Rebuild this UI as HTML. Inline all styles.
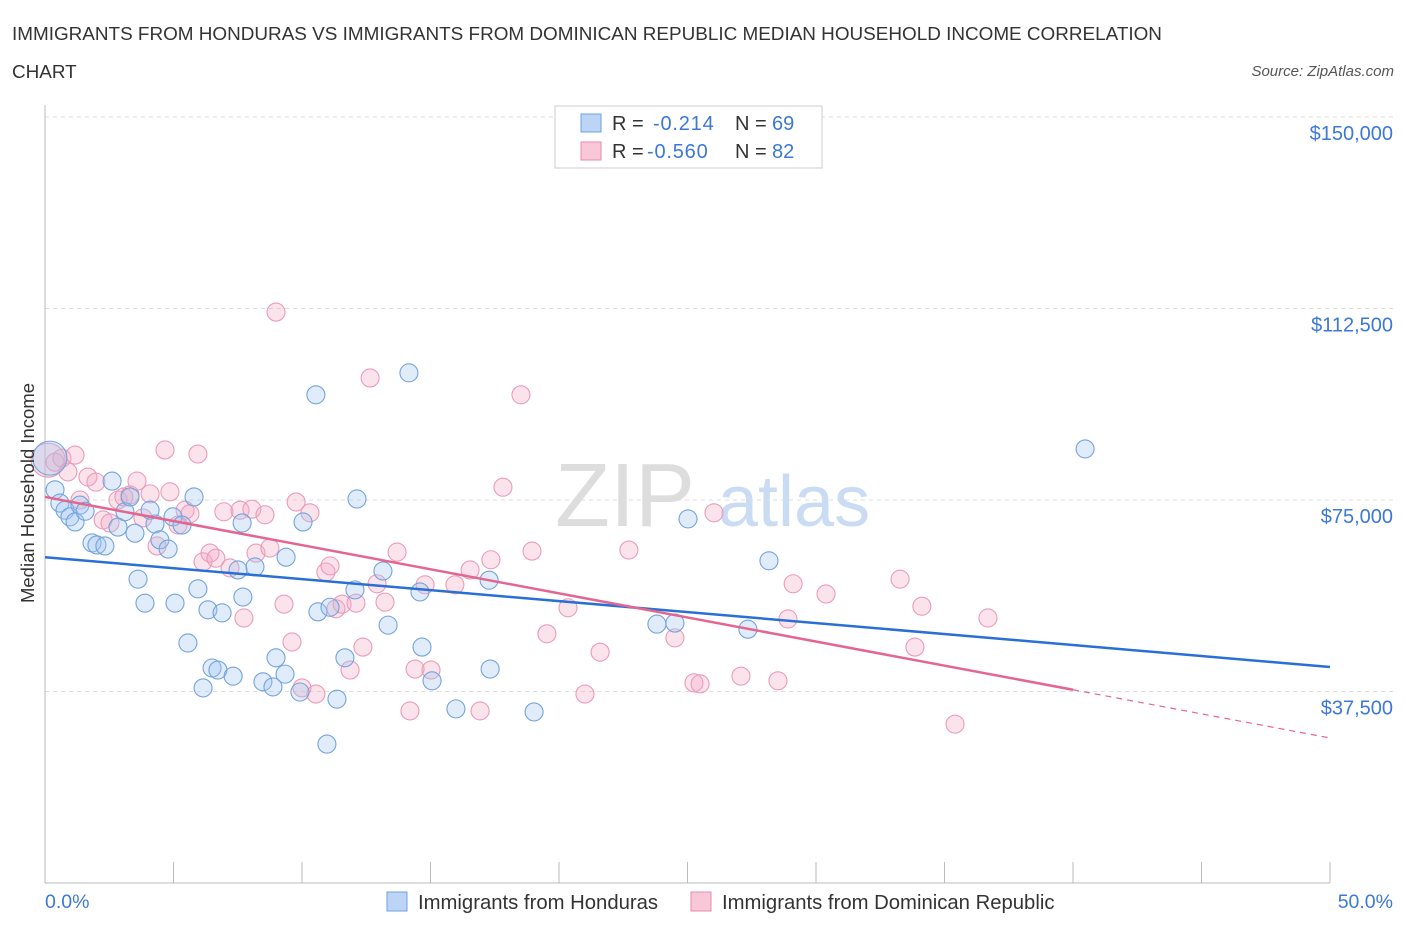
<!DOCTYPE html>
<html><head><meta charset="utf-8"><style>
body{margin:0;background:#fff;font-family:"Liberation Sans",sans-serif;}
svg text{font-family:"Liberation Sans",sans-serif;}
</style></head><body>
<svg id="chart" width="1406" height="930" xmlns="http://www.w3.org/2000/svg">
<text x="12" y="40" font-size="18.9" fill="#333">IMMIGRANTS FROM HONDURAS VS IMMIGRANTS FROM DOMINICAN REPUBLIC MEDIAN HOUSEHOLD INCOME CORRELATION</text>
<text x="12" y="78" font-size="18.9" fill="#333">CHART</text>
<text x="1394" y="76" font-size="15" fill="#555" text-anchor="end" font-style="italic">Source: ZipAtlas.com</text>
<text x="555" y="526" font-size="90" fill="#ddd" font-family="Liberation Serif">ZIP</text>
<text x="718" y="526" font-size="72" fill="#c9dcf3">atlas</text>
<g id="grid"></g><g id="axes"></g><g id="pts"></g><g id="lines"></g>
<text transform="translate(34,493) rotate(-90)" font-size="18.5" fill="#333" text-anchor="middle">Median Household Income</text>
<text x="45" y="908" font-size="19.5" fill="#3b78d8">0.0%</text>
<text x="1393" y="908" font-size="19.5" fill="#3b78d8" text-anchor="end">50.0%</text>
<g>
<rect x="555" y="106" width="267" height="62" fill="#fff" stroke="#ccc"/>
<rect x="581" y="114" width="20" height="18" fill="#bcd5f6" stroke="#6fa0dc"/>
<text x="612" y="130" font-size="20" fill="#333">R = </text><text x="653" y="130" font-size="20" fill="#3b78d8" letter-spacing="0.8">-0.214</text>
<text x="735" y="130" font-size="20" fill="#333">N = </text><text x="772" y="130" font-size="20" fill="#3b78d8">69</text>
<rect x="581" y="142" width="20" height="18" fill="#f8c8d8" stroke="#e88aab"/>
<text x="612" y="158" font-size="20" fill="#333">R = </text><text x="647" y="158" font-size="20" fill="#3b78d8" letter-spacing="0.8">-0.560</text>
<text x="735" y="158" font-size="20" fill="#333">N = </text><text x="772" y="158" font-size="20" fill="#3b78d8">82</text>
</g>
<g>
<rect x="387" y="892" width="20" height="19" fill="#bcd5f6" stroke="#6fa0dc"/>
<text x="418" y="909" font-size="20.3" fill="#333">Immigrants from Honduras</text>
<rect x="691" y="892" width="20" height="19" fill="#f8c8d8" stroke="#e88aab"/>
<text x="722" y="909" font-size="20.3" fill="#333">Immigrants from Dominican Republic</text>
</g>
</svg>
<script>
const yTicks=[150000,112500,75000,37500];
const yTickLabels=["$150,000","$112,500","$75,000","$37,500"];
const xTicks=[0,5,10,15,20,25,30,35,40,45,50];
const blueX=[0.19,0.39,0.58,0.78,0.97,1.17,1.36,1.56,1.83,2.02,2.33,2.61,2.84,3.11,3.31,3.50,3.62,3.89,4.09,4.28,4.47,4.79,4.98,5.06,5.33,5.56,5.80,5.95,6.15,6.34,6.50,6.73,6.89,7.32,7.51,7.67,7.70,8.17,8.48,8.87,8.99,9.34,9.38,9.92,10.04,10.54,10.62,10.97,11.09,11.36,11.67,12.06,12.14,13.15,13.35,14.16,14.59,14.67,15.06,15.99,17.28,17.32,19.03,23.81,24.51,25.02,27.35,28.17,40.47];
const blueY=[83200,77000,74400,73000,71700,70700,74000,72800,66600,66200,66000,78700,69700,72700,75600,68500,59500,54800,73000,70300,67200,65400,71700,54800,70100,47000,75600,57600,38200,53500,42100,41700,52900,40500,61300,70500,56000,61900,39400,38400,44100,40900,63800,37400,70700,95600,53100,27200,54000,36000,44100,57400,75200,61100,50500,99900,57000,46200,39600,34100,59300,41900,33500,50700,50900,71300,49700,63100,85000];
const pinkX=[0.12,0.39,0.66,0.89,1.17,1.36,1.67,1.98,2.26,2.53,2.84,3.07,3.31,3.58,3.81,4.09,4.36,4.67,4.86,5.18,5.45,5.64,5.95,6.15,6.42,6.65,6.96,7.20,7.59,7.74,8.05,8.21,8.56,8.75,8.99,9.30,9.61,9.77,10.00,10.31,10.54,10.93,11.09,11.32,11.56,11.87,12.10,12.37,12.65,12.92,13.23,13.70,14.20,14.40,14.79,15.02,15.95,16.54,16.93,17.35,17.82,18.52,18.95,19.53,20.35,21.01,21.60,22.72,24.51,25.25,25.49,26.03,27.08,28.52,28.91,29.11,30.39,33.27,33.85,34.12,35.41,36.69];
const pinkY=[82800,82400,83200,80500,83800,75000,79500,78500,71100,70500,75000,75600,76000,78700,71500,76200,66000,84800,76600,70100,73000,72300,84000,62900,64600,63600,72700,61700,73000,51900,73200,64600,72100,65600,111800,54600,47200,74600,38200,72500,37000,60900,62100,53700,54600,41700,54800,46200,98900,58600,55000,64800,33700,41900,58400,41700,58400,61300,33700,63300,77500,95600,65000,48800,53900,37000,45200,65200,48000,39200,39000,72500,40500,39600,51700,58600,56600,59500,46200,54200,31100,51900];
const blueTrend=[63800,42300];
const pinkTrend=[75600,28400];
const pinkSolidEnd=40;
const NS="http://www.w3.org/2000/svg";
const xS=p=>45+p*1285/50;
const yS=v=>500-(v-75000)*191.5/37500;
function mk(tag,attrs,parent){const e=document.createElementNS(NS,tag);for(const k in attrs)e.setAttribute(k,attrs[k]);parent.appendChild(e);return e;}
const grid=document.getElementById('grid'),axes=document.getElementById('axes'),pts=document.getElementById('pts'),lines=document.getElementById('lines');
yTicks.forEach((v,i)=>{
 const l=mk('line',{x1:45,x2:1395,y1:yS(v),y2:yS(v),stroke:'#ddd','stroke-dasharray':'4,4'},grid);
 
 
 const t=mk('text',{x:1393,y:yS(v)+23,'font-size':20,fill:'#3b78d8','text-anchor':'end'},axes);
 t.textContent=yTickLabels[i];
 
 
});
const ya=mk('line',{x1:45,x2:45,y1:105,y2:883,stroke:'#bbb'},axes);


const xa=mk('line',{x1:45,x2:1330,y1:883,y2:883,stroke:'#bbb'},axes);


xTicks.forEach(p=>{
 const l=mk('line',{x1:xS(p),x2:xS(p),y1:862,y2:883,stroke:'#bbb'},axes);
 
 
});
function dots(X,Y,fill,stroke,name){
 X.forEach((x,i)=>{
  const r=(x<0.3)?17:9;
  const c=mk('circle',{cx:xS(x),cy:yS(Y[i]),r:r,fill:fill,stroke:stroke,'stroke-width':1.1},pts);
  
  
 });
}
dots(pinkX,pinkY,'rgba(244,170,196,0.33)','#ec9bb7','dominican-point');
dots(blueX,blueY,'rgba(160,196,240,0.33)','#73a3de','honduras-point');
const bl=mk('line',{x1:xS(0),y1:yS(blueTrend[0]),x2:xS(50),y2:yS(blueTrend[1]),stroke:'#2a6fd6','stroke-width':2.5},lines);


const pAt=p=>pinkTrend[0]+(pinkTrend[1]-pinkTrend[0])*p/50;
const pl=mk('line',{x1:xS(0),y1:yS(pinkTrend[0]),x2:xS(pinkSolidEnd),y2:yS(pAt(pinkSolidEnd)),stroke:'#e4668f','stroke-width':2.5},lines);


const pd=mk('line',{x1:xS(pinkSolidEnd),y1:yS(pAt(pinkSolidEnd)),x2:xS(50),y2:yS(pinkTrend[1]),stroke:'#e4668f','stroke-width':1.2,'stroke-dasharray':'6,5'},lines);


</script>
</body></html>
